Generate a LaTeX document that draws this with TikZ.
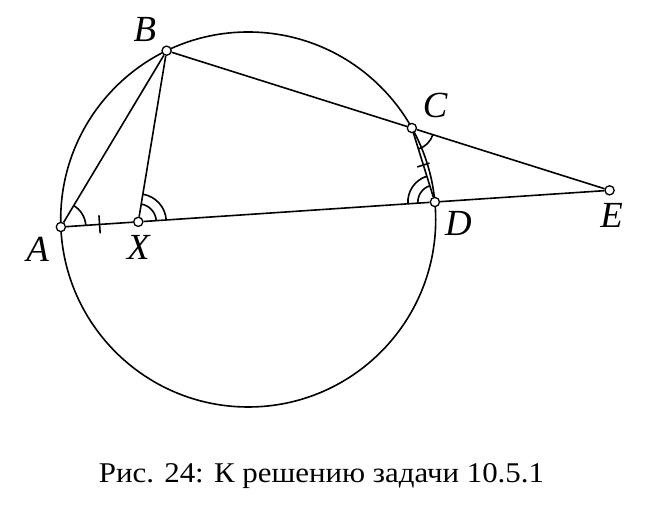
\documentclass[tikz,border=0pt]{standalone}
\usepackage{fontspec}
\setmainfont{Liberation Serif}
\newfontfamily\capfont[FakeStretch=1.08]{Liberation Serif}
\usetikzlibrary{calc,angles}

\begin{document}
\begin{tikzpicture}[
    x=0.5pt, y=0.5pt,
    line/.style={line width=0.8pt},
    dot/.style={circle, draw=black, line width=0.65pt, fill=white,
        minimum size=4.6pt, inner sep=0pt},
    lbl/.style={inner sep=0pt, font=\fontsize{18.4}{21}\selectfont\itshape},
    anglemark/.style={draw, line width=0.8pt},
    tick/.style={line width=0.8pt}
]
    \useasboundingbox (0,0) rectangle (654,508);
    \coordinate (O) at (248.2,288.5);
    \draw[line] (O) circle[radius=187.5];
    \node[dot] (A) at ($(O)+(182.3:187.5)$) {};
    \node[dot] (B) at ($(O)+(115.8:187.5)$) {};
    \node[dot] (C) at ($(O)+(29.2:187.5)$) {};
    \node[dot] (D) at ($(O)+(5.35:187.5)$) {};
    \node[dot] (X) at ($(A)!0.207!(D)$) {};
    \node[dot] (E) at (intersection of A--D and B--C) {};
    \draw[line] (A) -- (B);
    \draw[line] (B) -- (X);
    \draw[line] (B) -- (C);
    \draw[line] (C) -- (E);
    \draw[line] (A) -- (X);
    \draw[line] (X) -- (D);
    \draw[line] (D) -- (E);
    \draw[line] (C) -- (D);
    \pic[anglemark, angle radius=12.5pt] {angle=D--A--B};
    \pic[anglemark, angle radius=14pt] {angle=D--X--B};
    \pic[anglemark, angle radius=9pt] {angle=D--X--B};
    \pic[anglemark, angle radius=13.5pt] {angle=C--D--A};
    \pic[anglemark, angle radius=8.5pt] {angle=C--D--A};
    \pic[anglemark, angle radius=11pt] {angle=D--C--E};
    \draw[tick] ($(A)!0.5!(X)!4.5pt!90:(X)$) -- ($(A)!0.5!(X)!4.5pt!-90:(X)$);
    \draw[tick] ($(C)!0.5!(D)!3.2pt!90:(D)$) -- ($(C)!0.5!(D)!3.2pt!-90:(D)$);
    \node[lbl] (lA) at ($(A)+(-23.3,-22)$) {A};
    \node[lbl] (lB) at ($(B)+(-21.7,20.7)$) {B};
    \node[lbl] (lC) at ($(C)+(23.3,23)$) {C};
    \node[lbl] (lD) at ($(D)+(23.5,-21)$) {D};
    \node[lbl] (lE) at ($(E)+(2,-25)$) {E};
    \node[lbl] (lX) at ($(X)+(0,-26)$) {X};
    \node[anchor=base, inner sep=0pt, font=\capfont\fontsize{14.3}{17}\selectfont]
        (cap) at (321.5,25.3) {Рис. 24: К решению задачи 10.5.1};
\end{tikzpicture}
\end{document}
